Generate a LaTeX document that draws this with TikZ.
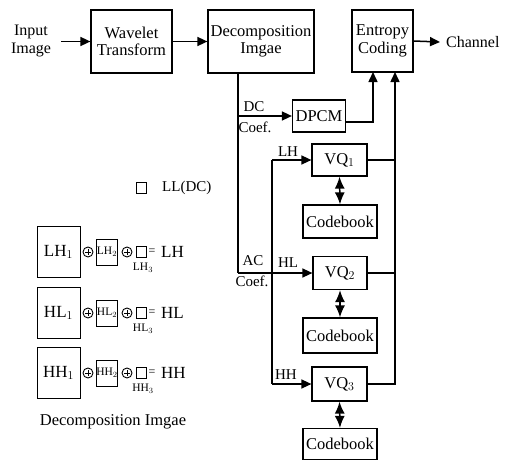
\documentclass[tikz,border=0pt]{standalone}
\usepackage{fontspec}
\setmainfont{Liberation Serif}
\usetikzlibrary{arrows.meta}
\newcommand{\fs}[1]{\fontsize{#1}{#1}\selectfont}
\begin{document}
\begin{tikzpicture}[x=1pt,y=-1pt,
  blk/.style={draw, line width=1.2pt, inner sep=0pt, align=center, font=\fs{16.5}},
  lbl/.style={inner sep=0pt, align=center, font=\fs{15}},
  wire/.style={line width=1.5pt},
  arr/.style={line width=1.5pt, -{Triangle[length=10pt,width=9pt]}},
  darr/.style={line width=1.5pt, {Latex[length=12pt,width=10pt]}-{Latex[length=12pt,width=10pt]}},
  bigsq/.style={draw, line width=1pt, inner sep=0pt, minimum width=43pt, minimum height=51pt, font=\fs{17}},
  midsq/.style={draw, line width=1pt, inner sep=0pt, minimum width=21pt, minimum height=26pt, font=\fs{11.5}},
  smsq/.style={draw, line width=1pt, inner sep=0pt, minimum width=10pt, minimum height=11pt},
  opl/.style={circle, draw, line width=0.9pt, inner sep=0pt, minimum size=10pt,
    path picture={\draw[line width=0.9pt]
      ([xshift=2.3pt]path picture bounding box.west) -- ([xshift=-2.3pt]path picture bounding box.east)
      ([yshift=-2.3pt]path picture bounding box.north) -- ([yshift=2.3pt]path picture bounding box.south);}}
]
\useasboundingbox (0,0) rectangle (520,461);

% top row
\node[lbl, font=\fs{16}, align=center] (inp) at (31,41) {Input\\[2pt]Image};
\node[blk, minimum width=81pt, minimum height=63pt] (wav) at (131.5,41.5) {Wavelet\\[1pt]Transform};
\node[blk, minimum width=106pt, minimum height=63pt] (dec) at (261,41.5) {Decomposition\\[1pt]Imgae};
\node[blk, minimum width=61pt, minimum height=62pt] (ent) at (382.5,41) {Entropy\\[1pt]Coding};
\node[lbl, font=\fs{16}, anchor=west] (chan) at (446,42) {Channel};

\draw[arr] ([xshift=10pt]inp.east |- wav.west) -- (wav.west);
\draw[arr] (wav.east) -- (dec.west);
\draw[arr] (ent.east) -- ([xshift=-6pt]chan.west);

% right-hand blocks
\node[blk, minimum width=53pt, minimum height=32pt] (dpcm) at (319,116) {DPCM};
\node[blk, minimum width=55pt, minimum height=32pt] (vq1) at (339.5,160) {VQ$_1$};
\node[blk, minimum width=74pt, minimum height=33pt] (cb1) at (340,221.5) {Codebook};
\node[blk, minimum width=54pt, minimum height=33pt] (vq2) at (340,273) {VQ$_2$};
\node[blk, minimum width=74pt, minimum height=35pt] (cb2) at (340,335.5) {Codebook};
\node[blk, minimum width=55pt, minimum height=34pt] (vq3) at (339.5,384) {VQ$_3$};
\node[blk, minimum width=74pt, minimum height=31pt] (cb3) at (340,444) {Codebook};

% junction coordinates
\coordinate (dtop) at (238,73);
\coordinate (dcj) at (238,116);
\coordinate (acj) at (238,273);
\coordinate (vtop) at (272,160);
\coordinate (vbot) at (272,384);
\coordinate (e1) at (373,72);
\coordinate (e2) at (395,72);
\coordinate (dpo) at (345,122);

% DC branch
\draw[wire] (dtop) -- (acj);
\draw[arr] (dcj) -- (dpcm.west);
\draw[arr] (dpo) -| (e1);
% AC branch
\draw[arr] (acj) -- (vq2.west);
\draw[wire] (vtop) -- (vbot);
\draw[arr] (vtop) -- (vq1.west);
\draw[arr] (vbot) -- (vq3.west);
% outputs
\draw[wire] (vq1.east) -- (vq1.east -| e2);
\draw[wire] (vq2.east) -- (vq2.east -| e2);
\draw[arr] (vq3.east) -| (e2);
% codebooks
\draw[darr] (vq1.south) -- (cb1.north);
\draw[darr] (vq2.south) -- (cb2.north);
\draw[darr] (vq3.south) -- (cb3.north);

% labels
\node[lbl] (ldc) at (254,107) {DC};
\node[lbl] (lcf1) at (255,127) {Coef.};
\node[lbl] (lac) at (253,261) {AC};
\node[lbl] (lcf2) at (252,281) {Coef.};
\node[lbl] (llh) at (288,152) {LH};
\node[lbl] (lhl) at (288,263) {HL};
\node[lbl] (lhh) at (286,375) {HH};

% left legend
\node[smsq] (llsq) at (141,188) {};
\node[lbl, anchor=west] (lltx) at (162,188) {LL(DC)};

\foreach \nm/\c in {LH/252, HL/313, HH/373}{
  \node[bigsq] (\nm a) at (58.5,\c) {\nm$_1$};
  \node[opl] (\nm p1) at (88,\c) {};
  \node[midsq] (\nm b) at (107,\c) {\nm$_2$};
  \node[opl] (\nm p2) at (127,\c) {};
  \node[smsq] (\nm c) at (141,\c) {};
  \node[lbl, font=\fs{11.5}] (\nm d) at (143,\c+16) {\nm$_3$};
  \node[lbl, font=\fs{12}] (\nm e) at (152,\c) {=};
  \node[lbl, font=\fs{17}, anchor=west] (\nm f) at (161,\c) {\nm};
}
\node[lbl, font=\fs{16.5}] (dimg) at (113,422) {Decomposition Imgae};
\end{tikzpicture}
\end{document}
